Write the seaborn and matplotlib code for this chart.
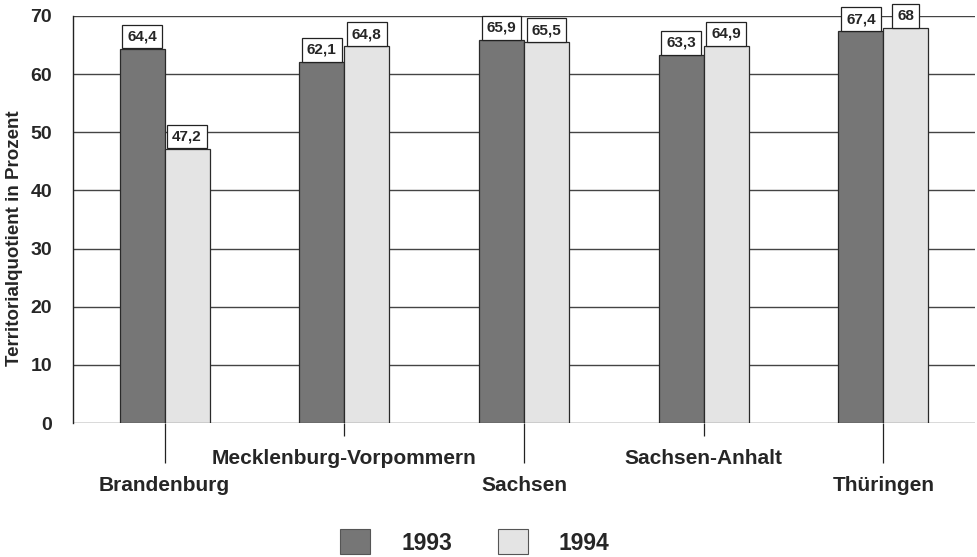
import matplotlib
matplotlib.use("Agg")
import matplotlib.pyplot as plt
import seaborn as sns
import pandas as pd

laender = ["Brandenburg", "Mecklenburg-Vorpommern", "Sachsen", "Sachsen-Anhalt", "Thüringen"]
werte_1993 = [64.4, 62.1, 65.9, 63.3, 67.4]
werte_1994 = [47.2, 64.8, 65.5, 64.9, 68.0]
jahre = ["1993", "1994"]
yticks = [0, 10, 20, 30, 40, 50, 60, 70]

df = pd.DataFrame({
    "Land": laender * 2,
    "Wert": werte_1993 + werte_1994,
    "Jahr": [jahre[0]] * len(laender) + [jahre[1]] * len(laender),
})

sns.set_style("white")
plt.rcParams["font.family"] = ["Liberation Sans", "DejaVu Sans"]
plt.rcParams["font.weight"] = "bold"

fig = plt.figure(figsize=(9.77, 5.57), dpi=100)
ax = fig.add_axes([73/977, 1-423/557, 902/977, 407/557])

colors = ["#767676", "#e4e4e4"]
sns.barplot(data=df, x="Land", y="Wert", hue="Jahr", palette=colors,
            width=0.5, edgecolor="#2a2a2a", linewidth=0.9, ax=ax,
            saturation=1, legend=False, zorder=3)

ax.set_ylim(0, 70)
ax.set_xlim(-0.51, 4.51)
ax.set_yticks(yticks)
ax.yaxis.grid(True, color="#444444", linewidth=1.0, zorder=0)
ax.set_axisbelow(True)
for s in ["top", "right", "bottom"]:
    ax.spines[s].set_visible(False)
ax.spines["left"].set_color("#222222")
ax.spines["left"].set_linewidth(1.0)

ax.tick_params(axis="y", length=8, width=1, color="#444444", pad=7,
               labelsize=14)
for t in ax.get_yticklabels():
    t.set_fontweight("bold")

# staggered category labels
major_idx = [0, 2, 4]
minor_idx = [1, 3]
ax.set_xticks(major_idx)
ax.set_xticklabels([laender[i] for i in major_idx], fontsize=15, fontweight="bold")
ax.set_xticks(minor_idx, minor=True)
ax.set_xticklabels([laender[i] for i in minor_idx], minor=True, fontsize=15, fontweight="bold")
ax.tick_params(axis="x", which="major", length=29, width=0.9, color="#222222", pad=9, direction="out")
ax.tick_params(axis="x", which="minor", length=9.5, width=0.9, color="#222222", pad=9, direction="out")
ax.xaxis.set_tick_params(bottom=True, which="both")

ax.set_xlabel("")
ax.set_ylabel("Territorialquotient in Prozent", fontsize=13.5, fontweight="bold")
ax.yaxis.set_label_coords(-0.055, 0.455)

# value labels
for cont in ax.containers:
    for bar in cont:
        h = bar.get_height()
        lbl = f"{h:g}".replace(".", ",")
        ax.annotate(lbl, (bar.get_x() + bar.get_width()/2, h),
                    xytext=(0, 3.6), textcoords="offset points",
                    ha="center", va="bottom", fontsize=11, fontweight="bold",
                    bbox=dict(boxstyle="square,pad=0.32", fc="white", ec="#222222", lw=0.9),
                    zorder=5, annotation_clip=False)

# legend
from matplotlib.patches import Patch
handles = [Patch(facecolor=c, edgecolor="#555555", linewidth=0.8) for c in colors]
fig.legend(handles, jahre, loc="center", bbox_to_anchor=(0.486, 0.027),
           ncol=2, frameon=False, fontsize=16.5, handlelength=1.3, handleheight=1.3,
           handletextpad=1.35, columnspacing=2.0, borderpad=0)

fig.savefig("out.png", dpi=100)
